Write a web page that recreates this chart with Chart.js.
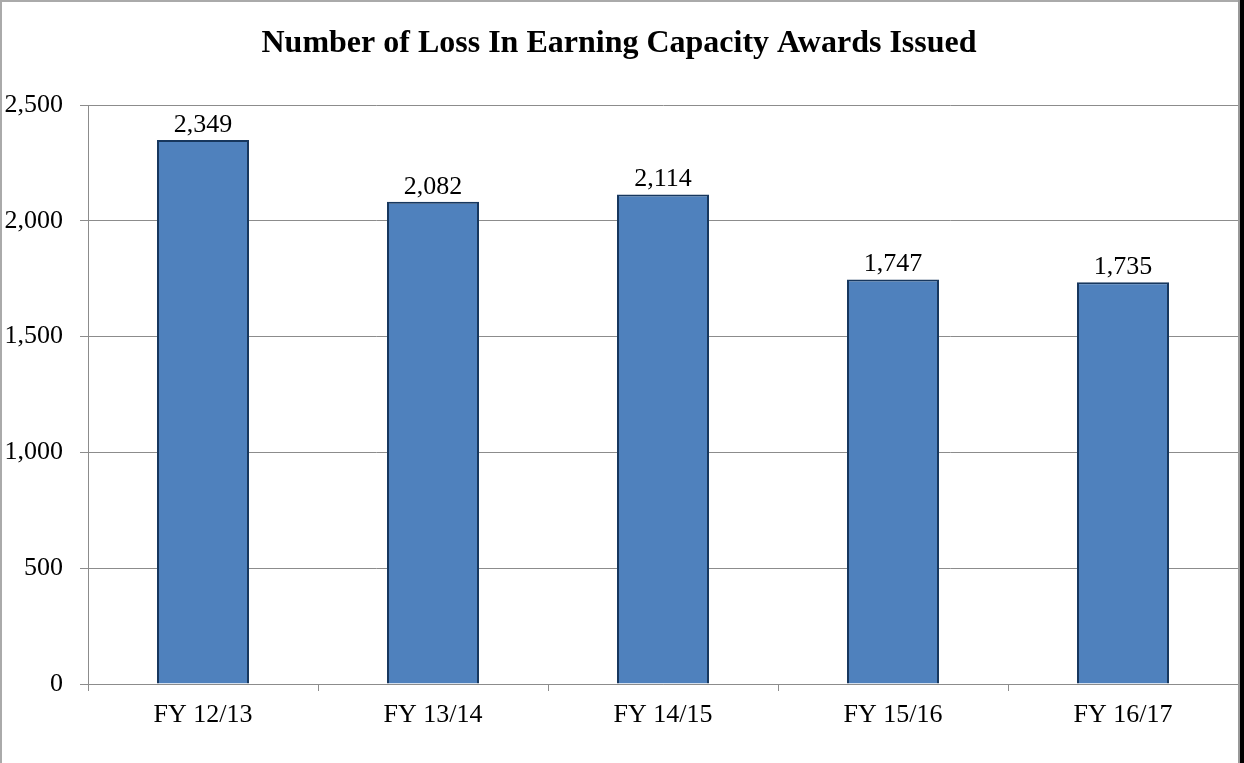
<!DOCTYPE html>
<html>
<head>
<meta charset="utf-8">
<script src="https://cdn.jsdelivr.net/npm/chart.js@4"></script>
<style>
html,body{margin:0;padding:0;background:#fff;}
#wrap{position:relative;width:1244px;height:763px;overflow:hidden;}
#c{position:absolute;left:0;top:0;}
.b{position:absolute;}
</style>
</head>
<body>
<div id="wrap">
<canvas id="c" width="1244" height="763"></canvas>
<div class="b" style="left:0;top:0;width:1240px;height:2px;background:#aaa"></div>
<div class="b" style="left:0;top:0;width:2px;height:763px;background:#aaa"></div>
<div class="b" style="left:1238px;top:0;width:2px;height:763px;background:#999"></div>
<div class="b" style="left:1240px;top:0;width:4px;height:763px;background:#000"></div>
</div>
<script>
const categories = ["FY 12/13", "FY 13/14", "FY 14/15", "FY 15/16", "FY 16/17"];
const awards = [2349, 2082, 2114, 1747, 1735];
const yTicks = [0, 500, 1000, 1500, 2000, 2500];
const titleText = "Number of Loss In Earning Capacity Awards Issued";

const FONT = "'Liberation Serif', 'Times New Roman', serif";
const GRID = '#8c8c8c';

const labelPlugin = {
  id: 'valueLabels',
  afterDatasetsDraw(chart) {
    const ctx = chart.ctx;
    const meta = chart.getDatasetMeta(0);
    ctx.save();
    ctx.font = "26px " + FONT;
    ctx.fillStyle = '#000';
    ctx.textAlign = 'center';
    ctx.textBaseline = 'alphabetic';
    meta.data.forEach((bar, i) => {
      ctx.fillText(awards[i].toLocaleString('en-US'), bar.x, bar.y - 8);
    });
    ctx.restore();
  }
};

new Chart(document.getElementById('c'), {
  type: 'bar',
  data: {
    labels: categories,
    datasets: [{
      data: awards,
      backgroundColor: '#4F81BD',
      borderColor: '#17375E',
      borderWidth: 2,
      categoryPercentage: 1.0,
      barPercentage: 0.4
    }]
  },
  options: {
    responsive: false,
    animation: false,
    devicePixelRatio: 1,
    layout: { padding: { left: 0, right: 6, top: 0, bottom: 0 } },
    plugins: {
      legend: { display: false },
      tooltip: { enabled: false },
      title: {
        display: true,
        text: titleText,
        color: '#000',
        font: { family: FONT, size: 32, weight: 'bold', lineHeight: 1.2 },
        padding: { top: 25, bottom: 41.6 }
      }
    },
    scales: {
      x: {
        grid: { display: true, drawOnChartArea: false, drawTicks: true, tickLength: 7, color: GRID, offset: true },
        border: { display: true, color: GRID, width: 1 },
        ticks: { color: '#000', font: { family: FONT, size: 26 }, padding: 9, maxRotation: 0 },
        afterFit(s) { s.height = 79; }
      },
      y: {
        min: 0, max: 2500,
        afterBuildTicks(s) { s.ticks = yTicks.map(v => ({ value: v })); },
        grid: { color: GRID, tickLength: 8, drawTicks: true },
        border: { display: true, color: GRID, width: 1 },
        ticks: {
          color: '#000', font: { family: FONT, size: 26 }, padding: 17,
          callback: v => Number(v).toLocaleString('en-US')
        },
        afterFit(s) { s.width = 88; }
      }
    }
  },
  plugins: [labelPlugin]
});
</script>
</body>
</html>
